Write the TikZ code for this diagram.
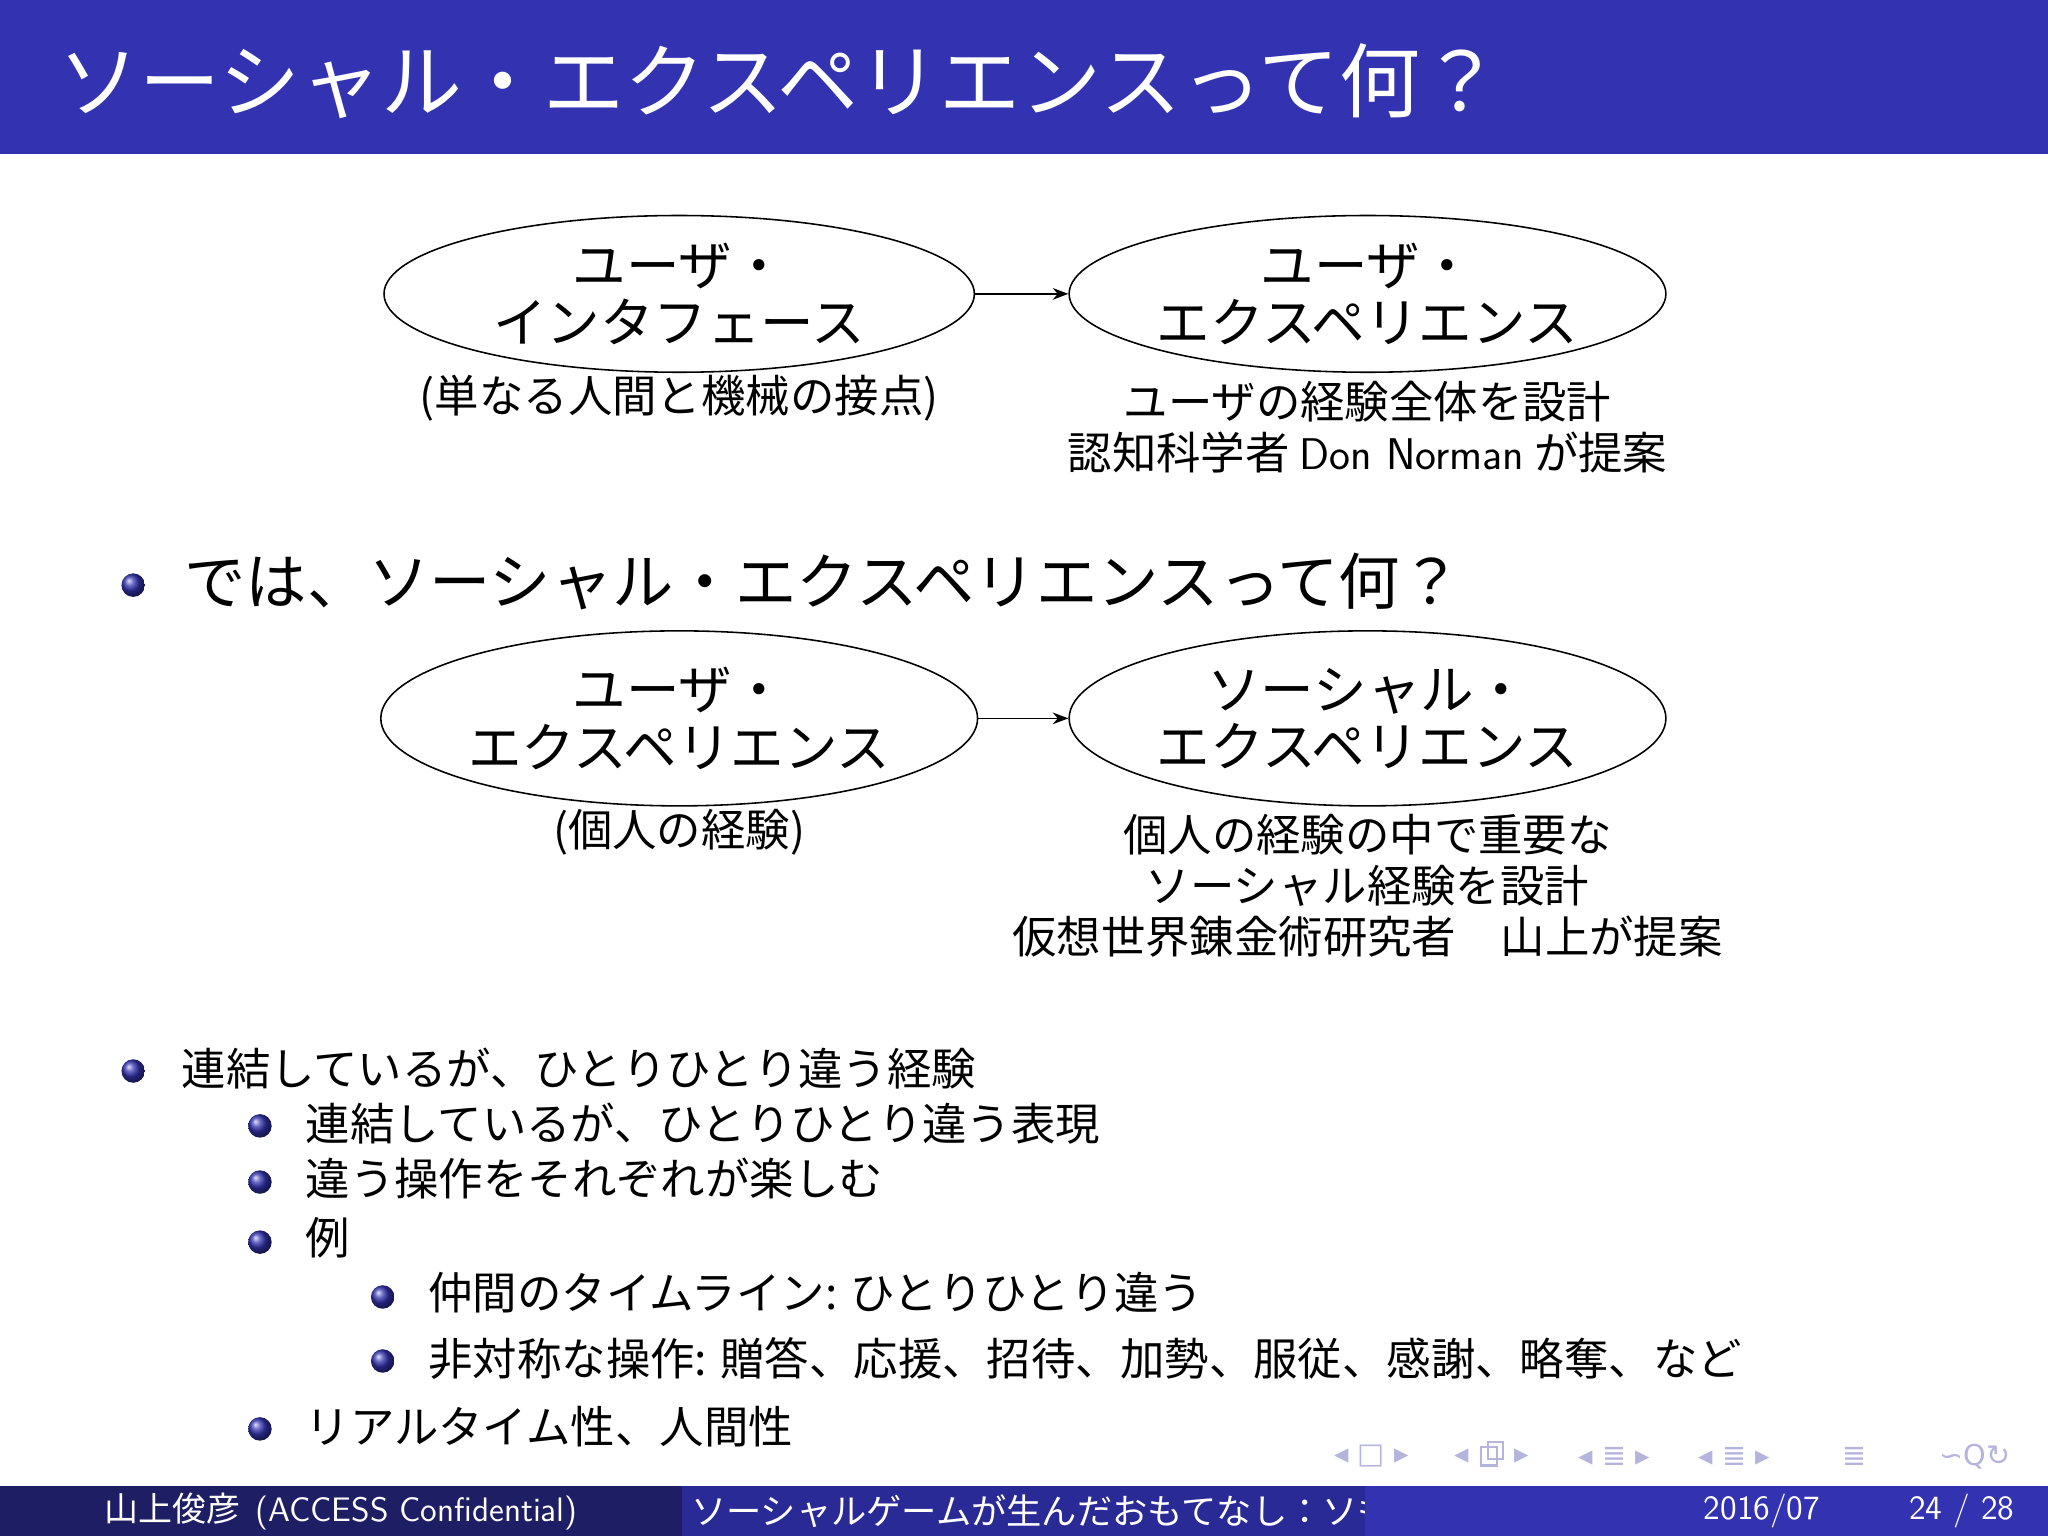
\documentclass[tikz,border=0pt]{standalone}
\usepackage{fontspec}
\setmainfont{Noto Sans CJK JP}
\newfontfamily\lat{Latin Modern Sans}
\newfontfamily\dv{DejaVu Sans}
\definecolor{bar}{RGB}{51,51,178}
\definecolor{fl}{RGB}{30,30,100}
\definecolor{fm}{RGB}{42,42,150}
\definecolor{navc}{RGB}{180,180,220}
\usetikzlibrary{shapes.geometric,arrows.meta}
\begin{document}
\begin{tikzpicture}[x=0.5pt,y=-0.5pt,
  ell/.style={ellipse,draw,line width=0.6pt,minimum width=226pt,minimum height=60pt,align=center,font=\fontsize{20.5}{22}\selectfont,inner sep=0pt},
  ell2/.style={ell,minimum height=67pt},
  lab/.style={align=center,font=\fontsize{17}{19.5}\selectfont},
  big/.style={anchor=west,font=\fontsize{23.5}{26}\selectfont},
  itm/.style={anchor=west,font=\fontsize{17}{19}\selectfont},
  arr/.style={-{Stealth[length=6pt]},line width=0.6pt},
  nav/.style={text=navc,font=\dv\fontsize{11}{12}\selectfont}]
\useasboundingbox (0,0) rectangle (1568,1176);
\fill[bar] (0,0) rectangle (1568,118);
\node[anchor=west,text=white,font=\fontsize{31}{34}\selectfont] (title) at (38,62) {ソーシャル・エクスペリエンスって何？};
% first pair
\node[ell] (ui) at (520,225) {ユーザ・\\インタフェース};
\node[ell] (ux) at (1047,225) {ユーザ・\\エクスペリエンス};
\draw[arr] (ui) -- (ux);
\node[lab] (l1) at (520,305) {(単なる人間と機械の接点)};
\node[lab] (l2) at (1047,327) {ユーザの経験全体を設計\\認知科学者 {\lat Don Norman} が提案};
% bullet
\newcommand\ball[1]{\shade[ball color=bar] #1 circle[radius=9];}
\ball{(102,448)}
\node[big] (q) at (134,445) {では、ソーシャル・エクスペリエンスって何？};
\node[ell2] (ux2) at (520,550) {ユーザ・\\エクスペリエンス};
\node[ell2] (sx) at (1047,550) {ソーシャル・\\エクスペリエンス};
\draw[arr] (ux2) -- (sx);
\node[lab] (l3) at (520,637) {(個人の経験)};
\node[lab] (l4) at (1047,678) {個人の経験の中で重要な\\ソーシャル経験を設計\\仮想世界錬金術研究者　山上が提案};
% list
\ball{(102,820)}
\node[itm] (b1) at (132,818) {連結しているが、ひとりひとり違う経験};
\ball{(199,862)} \ball{(199,905)} \ball{(199,951)} \ball{(199,1094)}
\node[itm] (b2) at (227,860) {連結しているが、ひとりひとり違う表現};
\node[itm] (b3) at (227,902) {違う操作をそれぞれが楽しむ};
\node[itm] (b4) at (227,948) {例};
\ball{(293,993)} \ball{(293,1042)}
\node[itm] (b5) at (321,990) {仲間のタイムライン: ひとりひとり違う};
\node[itm] (b6) at (321,1040) {非対称な操作: 贈答、応援、招待、加勢、服従、感謝、略奪、など};
\node[itm] (b7) at (227,1092) {リアルタイム性、人間性};
% nav
\node[nav] (n1) at (1050,1115) {◂ □ ▸};
\node[nav] (n2) at (1142,1115) {◂ \phantom{□} ▸};
\draw[navc,line width=0.8pt] (1134,1108) rectangle (1146,1122) (1139,1104) rectangle (1151,1117);
\node[nav] (n3) at (1236,1115) {◂ ≣ ▸};
\node[nav] (n4) at (1328,1115) {◂ ≣ ▸};
\node[nav] (n5) at (1420,1115) {≣};
\node[nav] (n6) at (1512,1115) {∽Q↻};
% footer
\fill[fl] (0,1138) rectangle (522,1176);
\fill[fm] (522,1138) rectangle (1045,1176);
\fill[bar] (1045,1138) rectangle (1568,1176);
\node[text=white,font=\fontsize{13}{14}\selectfont] (f1) at (261,1157) {山上俊彦\ \ {\lat (ACCESS Confidential)}};
\begin{scope}
\clip (522,1138) rectangle (1045,1176);
\node[anchor=west,text=white,font=\fontsize{13.5}{14}\selectfont] (f2) at (522,1157) {ソーシャルゲームが生んだおもてなし：ソも};
\end{scope}
\node[text=white,font=\lat\fontsize{13}{14}\selectfont] (f3) at (1349,1157) {2016/07};
\node[text=white,font=\lat\fontsize{13}{14}\selectfont] (f4) at (1502,1157) {24 / 28};
\end{tikzpicture}
\end{document}
